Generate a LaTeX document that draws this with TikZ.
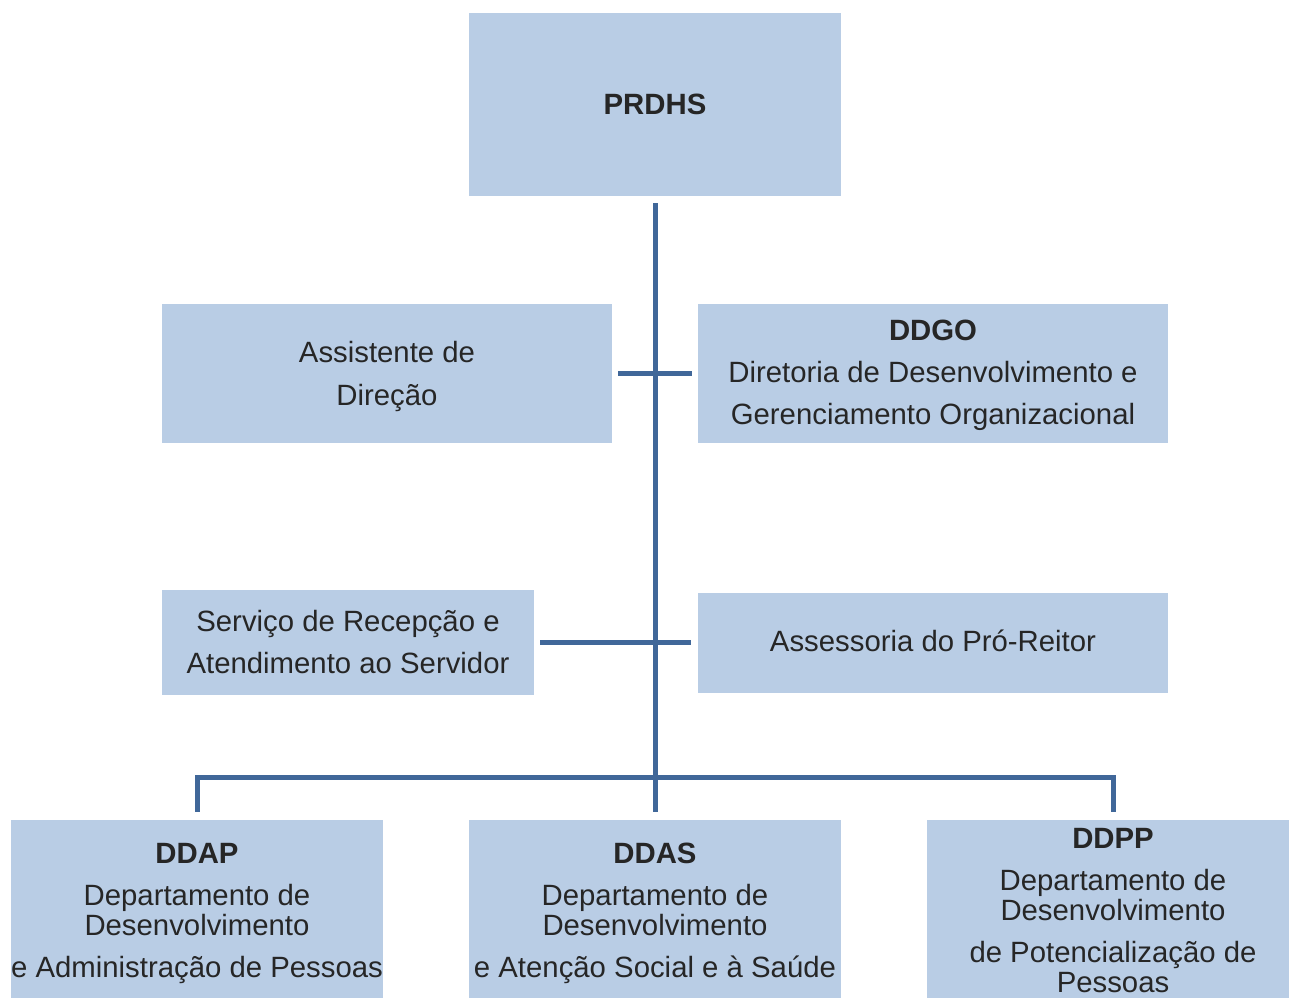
\documentclass[tikz,border=0pt]{standalone}
\usepackage{fontspec}
\setmainfont{Liberation Sans}
\definecolor{boxfill}{HTML}{B9CDE5}
\definecolor{linecol}{RGB}{64,103,153}
\definecolor{txtcol}{HTML}{262626}
\begin{document}
\begin{tikzpicture}[x=0.75pt,y=-0.75pt,
  orgbox/.style={draw=none,fill=boxfill,rectangle,inner sep=0pt},
  conn/.style={draw=linecol,line width=3.75pt},
  txt/.style={text=txtcol,anchor=base,inner sep=0pt,font=\fontsize{22}{26}\selectfont},
  btxt/.style={txt,font=\fontsize{22}{26}\selectfont\bfseries}]
\clip (0,0) rectangle (1289,997);
\useasboundingbox (0,0) rectangle (1289,997);
% boxes
\node[orgbox,minimum width=279pt,minimum height=137.25pt] (prdhs) at (655,104.5) {};
\node[orgbox,minimum width=337.5pt,minimum height=104.25pt] (asst) at (387,373.5) {};
\node[orgbox,minimum width=352.5pt,minimum height=104.25pt] (ddgo) at (933,373.5) {};
\node[orgbox,minimum width=279pt,minimum height=78.75pt] (serv) at (348,642.5) {};
\node[orgbox,minimum width=352.5pt,minimum height=75pt] (asse) at (933,642.5) {};
\node[orgbox,minimum width=279pt,minimum height=137.25pt] (ddap) at (197,911.5) {};
\node[orgbox,minimum width=279pt,minimum height=137.25pt] (ddas) at (655,911.5) {};
\node[orgbox,minimum width=279pt,minimum height=137.25pt] (ddpp) at (1113,911.5) {};
% connectors
\draw[conn,shorten <=5.25pt,shorten >=6pt] (prdhs.south) -- (ddas.north);
\draw[conn,shorten <=4.5pt,shorten >=4.5pt] (asst.east) -- (ddgo.west);
\draw[conn,shorten <=4.5pt,shorten >=5.25pt] (serv.east) -- (asse.west);
\coordinate (bus) at (655,777);
\draw[conn,shorten <=6pt,shorten >=6pt] (ddap.north) |- (bus) -| (ddpp.north);
% texts
\node[btxt] (tprdhs) at (655,114) {PRDHS};
\node[txt] (tasst1) at (387,362) {Assistente de};
\node[txt] (tasst2) at (387,405) {Direção};
\node[btxt] (tddgo1) at (933,340) {DDGO};
\node[txt] (tddgo2) at (933,382) {Diretoria de Desenvolvimento e};
\node[txt] (tddgo3) at (933,424) {Gerenciamento Organizacional};
\node[txt] (tserv1) at (348,631) {Serviço de Recepção e};
\node[txt] (tserv2) at (348,673) {Atendimento ao Servidor};
\node[txt] (tasse) at (933,651) {Assessoria do Pró-Reitor};
\node[btxt] (tddap1) at (197,863) {DDAP};
\node[txt] (tddap2) at (197,905) {Departamento de};
\node[txt] (tddap3) at (197,935) {Desenvolvimento};
\node[txt] (tddap4) at (197,977) {e Administração de Pessoas};
\node[btxt] (tddas1) at (655,863) {DDAS};
\node[txt] (tddas2) at (655,905) {Departamento de};
\node[txt] (tddas3) at (655,935) {Desenvolvimento};
\node[txt] (tddas4) at (655,977) {e Atenção Social e à Saúde};
\node[btxt] (tddpp1) at (1113,848) {DDPP};
\node[txt] (tddpp2) at (1113,890) {Departamento de};
\node[txt] (tddpp3) at (1113,920) {Desenvolvimento};
\node[txt] (tddpp4) at (1113,962) {de Potencialização de};
\node[txt] (tddpp5) at (1113,992) {Pessoas};
\end{tikzpicture}
\end{document}
